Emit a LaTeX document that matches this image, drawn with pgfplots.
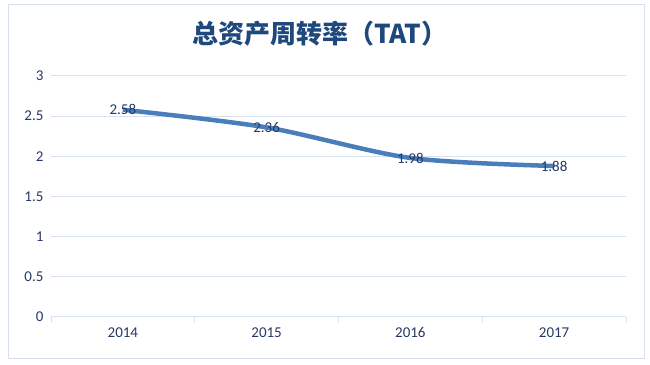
\documentclass[border=0pt]{standalone}
\usepackage{pgfplots}
\pgfplotsset{compat=1.18}
\usepackage{fontspec}
\setmainfont{Carlito}
\newfontfamily\cjk{Noto Sans CJK SC}
\definecolor{linec}{RGB}{74,126,187}
\definecolor{gridc}{RGB}{214,226,240}
\definecolor{borderc}{RGB}{214,223,236}
\definecolor{txtc}{RGB}{38,56,100}
\definecolor{titlec}{RGB}{31,73,125}
\begin{document}
\begin{tikzpicture}
\path[use as bounding box] (0,0) rectangle (650bp,365bp);
\draw[borderc, line width=1bp] (8bp,6bp) rectangle (644bp,360bp);
\node[titlec, font={\cjk\bfseries\fontsize{26bp}{30bp}\selectfont}] at (320bp,331bp) {总资产周转率（TAT）};
\begin{axis}[
  at={(51bp,48bp)}, anchor=south west,
  scale only axis, width=575bp, height=241bp,
  xmin=-0.5, xmax=3.5, ymin=0, ymax=3,
  xtick={0,1,2,3}, xticklabels={2014,2015,2016,2017},
  minor xtick={-0.5,0.5,1.5,2.5,3.5},
  ytick={0,0.5,...,3},
  /pgf/number format/assume math mode=true,
  axis x line*=bottom, axis y line*=left,
  y axis line style={draw=none},
  x axis line style={color=gridc, line width=1bp},
  ymajorgrids, grid style={color=gridc, line width=1bp},
  major tick length=0pt, minor tick length=6bp,
  xtick align=outside,
  tick style={color=gridc, line width=1bp},
  xticklabel style={color=txtc, font=\fontsize{15bp}{18bp}\selectfont, yshift=-7bp},
  yticklabel style={color=txtc, font=\fontsize{15bp}{18bp}\selectfont, xshift=-4bp},
  clip=false,
]
\addplot[linec, line width=4.5bp, smooth, tension=0.5,
  nodes near coords,
  every node near coord/.style={anchor=center, color=txtc, font=\fontsize{15bp}{18bp}\selectfont},
  point meta=explicit symbolic]
  coordinates {(0,2.58)[2.58] (1,2.36)[2.36] (2,1.98)[1.98] (3,1.88)[1.88]};
\end{axis}
\end{tikzpicture}
\end{document}
